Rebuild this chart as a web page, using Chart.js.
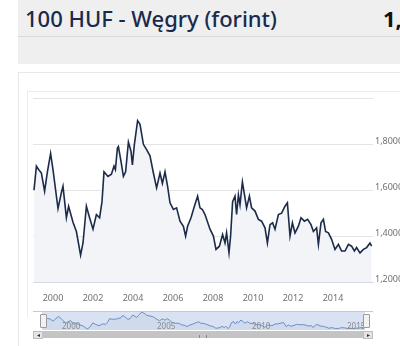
<!DOCTYPE html>
<html>
<head>
<meta charset="utf-8">
<script src="https://cdn.jsdelivr.net/npm/chart.js@4"></script>
<style>
  html, body { margin: 0; padding: 0; background: #fff; }
  body { width: 400px; height: 346px; position: relative; overflow: hidden; font-family: "Noto Sans", sans-serif; }
  .header { position: absolute; left: 18px; top: 0; width: 400px; height: 64px; background: #efefef; }
  .header .rule { position: absolute; left: 0; right: 0; top: 36px; height: 1px; background: #dadada; }
  .title { position: absolute; left: 7px; top: 3px; font-size: 22px; font-weight: 500; color: #1a2a4c; white-space: nowrap; }
  .value { position: absolute; left: 365px; top: 3px; font-size: 22px; font-weight: 700; color: #111; }
  .panel { position: absolute; left: 18px; top: 72px; width: 400px; height: 300px; border-left: 1px solid #e8e8e8; border-top: 1px solid #e8e8e8; }
  .inner { position: absolute; left: 27px; top: 91px; width: 400px; height: 225px; border-left: 1px solid #ececec; border-top: 1px solid #ececec; }
  canvas { position: absolute; }
  #main { left: 27px; top: 91px; }
  #nav { left: 33px; top: 310px; }
  .navtop { position: absolute; left: 33px; top: 311px; width: 340px; height: 1px; background: #c8c8c8; }
  .handle { position: absolute; top: 314px; width: 5px; height: 12px; background: #f2f2f2; border: 1px solid #9a9a9a; border-radius: 1px; }
  .sb { position: absolute; top: 331px; height: 7px; }
  .sbtrack { left: 42px; width: 322px; background: #c4c4c4; }
  .sbbtn { width: 8px; background: #e4e4e4; border: 1px solid #bdbdbd; height: 6px; font-size: 6px; line-height: 6px; text-align: center; color: #333; }
  .grip { position: absolute; left: 199px; top: 335px; width: 6px; height: 3px; border-left: 1px solid #888; border-right: 1px solid #888; }
</style>
</head>
<body>
<div class="header">
  <div class="rule"></div>
  <div class="title">100 HUF - Węgry (forint)</div>
  <div class="value">1,</div>
</div>
<div class="panel"></div>
<div class="inner"></div>
<canvas id="main" width="373" height="210"></canvas>
<div class="navtop"></div>
<canvas id="nav" width="340" height="22"></canvas>
<div class="handle" style="left:40px"></div>
<div class="handle" style="left:363px"></div>
<div class="sb sbbtn" style="left:33px">&#9666;</div>
<div class="sb sbtrack"></div>
<div class="grip"></div>
<div class="sb sbbtn" style="left:363px">&#9656;</div>
<script>
// time axis in decimal years
const years = [
  1999.05, 1999.17, 1999.28, 1999.42, 1999.58, 1999.72, 1999.88, 2000.0, 2000.25, 2000.42,
  2000.5, 2000.67, 2000.78, 2001.0, 2001.17, 2001.38, 2001.5, 2001.67, 2001.83, 2002.0,
  2002.17, 2002.33, 2002.45, 2002.55, 2002.75, 2002.92, 2003.05, 2003.12, 2003.22, 2003.27,
  2003.4, 2003.52, 2003.63, 2003.77, 2003.9, 2003.97, 2004.07, 2004.23, 2004.35, 2004.52,
  2004.68, 2004.85, 2005.02, 2005.18, 2005.35, 2005.47, 2005.6, 2005.73, 2005.85, 2006.02,
  2006.18, 2006.35, 2006.52, 2006.63, 2006.73, 2006.9, 2007.07, 2007.23, 2007.35, 2007.47,
  2007.6, 2007.85, 2008.02, 2008.15, 2008.32, 2008.48, 2008.6, 2008.68, 2008.8, 2008.88,
  2008.98, 2009.1, 2009.18, 2009.27, 2009.35, 2009.47, 2009.6, 2009.68, 2009.82, 2009.93,
  2010.1, 2010.27, 2010.43, 2010.6, 2010.72, 2010.85, 2010.98, 2011.1, 2011.27, 2011.43,
  2011.6, 2011.72, 2011.85, 2011.97, 2012.1, 2012.27, 2012.4, 2012.57, 2012.73, 2012.9,
  2013.02, 2013.18, 2013.27, 2013.4, 2013.52, 2013.63, 2013.77, 2013.93, 2014.1, 2014.27,
  2014.43, 2014.6, 2014.77, 2014.93, 2015.07, 2015.18, 2015.35, 2015.52, 2015.68, 2015.85,
  2015.93
];

// PLN per 100 HUF
const rates = [
  1.600, 1.705, 1.690, 1.675, 1.596, 1.680, 1.760, 1.690, 1.520, 1.590,
  1.617, 1.480, 1.530, 1.460, 1.420, 1.317, 1.370, 1.530, 1.480, 1.430,
  1.494, 1.480, 1.550, 1.680, 1.660, 1.670, 1.705, 1.690, 1.784, 1.790,
  1.726, 1.660, 1.680, 1.810, 1.770, 1.710, 1.800, 1.903, 1.887, 1.800,
  1.777, 1.750, 1.675, 1.610, 1.675, 1.630, 1.680, 1.617, 1.545, 1.516,
  1.523, 1.465, 1.443, 1.400, 1.443, 1.480, 1.530, 1.574, 1.523, 1.516,
  1.494, 1.430, 1.400, 1.342, 1.356, 1.407, 1.370, 1.414, 1.327, 1.400,
  1.550, 1.574, 1.494, 1.580, 1.537, 1.636, 1.567, 1.523, 1.574, 1.523,
  1.509, 1.473, 1.465, 1.436, 1.370, 1.450, 1.458, 1.430, 1.494, 1.500,
  1.530, 1.545, 1.400, 1.458, 1.414, 1.443, 1.480, 1.465, 1.473, 1.450,
  1.420, 1.436, 1.364, 1.458, 1.473, 1.420, 1.414, 1.386, 1.342, 1.364,
  1.335, 1.335, 1.364, 1.356, 1.335, 1.350, 1.327, 1.342, 1.350, 1.370,
  1.356
];

const yTicks = [1.2, 1.4, 1.6, 1.8, 2.0];
const xTicks = [2000, 2002, 2004, 2006, 2008, 2010, 2012, 2014];
const navTicks = [2000, 2005, 2010, 2015];

const points = years.map((x, i) => ({ x: x, y: rates[i] }));

new Chart(document.getElementById("main"), {
  type: "line",
  data: {
    datasets: [{
      data: points,
      borderColor: "#1c2b4a",
      borderWidth: 1.6,
      pointRadius: 0,
      tension: 0,
      fill: "start",
      backgroundColor: "#f2f4f8"
    }]
  },
  options: {
    responsive: false,
    animation: false,
    layout: { padding: { left: 6, top: 6, right: 0, bottom: 0 } },
    plugins: { legend: { display: false }, tooltip: { enabled: false } },
    scales: {
      x: {
        type: "linear",
        min: 1999,
        max: 2016,
        afterBuildTicks: s => { s.ticks = xTicks.map(v => ({ value: v })); },
        afterFit: s => { s.height = 19; },
        grid: { display: false },
        border: { display: true, color: "#d5dbe6", width: 1 },
        ticks: {
          color: "#707070",
          font: { size: 9, family: "Noto Sans" },
          padding: 3,
          maxRotation: 0,
          autoSkip: false,
          callback: v => String(v)
        }
      },
      y: {
        position: "right",
        min: 1.2,
        max: 2.0,
        afterBuildTicks: s => { s.ticks = yTicks.map(v => ({ value: v })); },
        afterFit: s => { s.width = 27; },
        grid: { color: "#e4e4e4", drawTicks: false },
        border: { display: false },
        ticks: {
          color: "#707070",
          font: { size: 9, family: "Noto Sans" },
          padding: 2,
          labelOffset: -3,
          callback: v => v >= 2 ? "" : v.toFixed(4).replace(".", ",")
        }
      }
    }
  }
});

const navBackground = {
  id: "navBackground",
  beforeDatasetsDraw(chart) {
    const { ctx, chartArea } = chart;
    ctx.save();
    ctx.fillStyle = "#d8e2f2";
    ctx.fillRect(chartArea.left, chartArea.top, chartArea.right - chartArea.left, chartArea.bottom - chartArea.top);
    ctx.restore();
  },
  afterDatasetsDraw(chart) {
    const { ctx, chartArea } = chart;
    const xs = chart.scales.x;
    ctx.save();
    ctx.fillStyle = "#8a8a8a";
    ctx.font = "8px 'Noto Sans'";
    ctx.textBaseline = "alphabetic";
    navTicks.forEach(t => {
      ctx.fillText(String(t), xs.getPixelForValue(t) + 1, chartArea.bottom - 1);
    });
    ctx.restore();
  }
};

new Chart(document.getElementById("nav"), {
  type: "line",
  data: {
    datasets: [{
      data: points,
      borderColor: "#6d8ec6",
      borderWidth: 1,
      pointRadius: 0,
      tension: 0,
      fill: "start",
      backgroundColor: "rgba(69,114,167,0.06)"
    }]
  },
  options: {
    responsive: false,
    animation: false,
    layout: { padding: { left: 9, right: 8, top: 2, bottom: 2 } },
    plugins: { legend: { display: false }, tooltip: { enabled: false } },
    scales: {
      x: { type: "linear", min: 1999, max: 2016, display: false },
      y: { min: 1.28, max: 1.92, display: false }
    }
  },
  plugins: [navBackground]
});
</script>
</body>
</html>
